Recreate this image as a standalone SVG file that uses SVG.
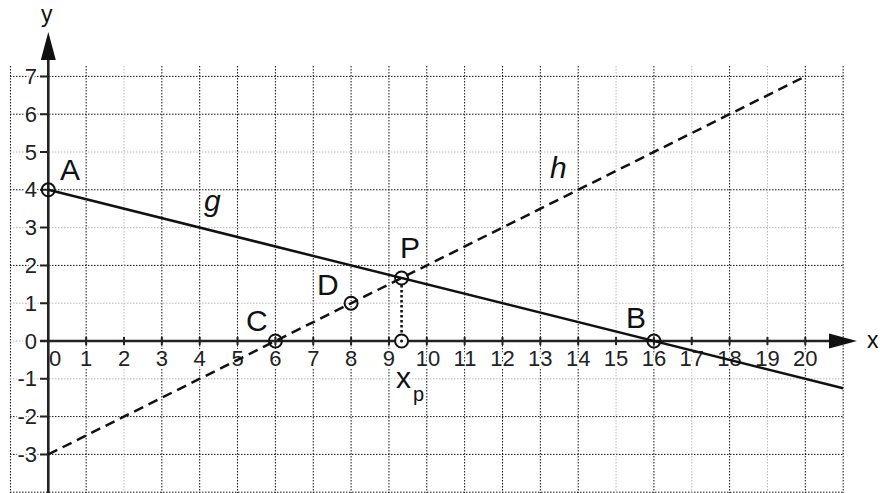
<svg xmlns="http://www.w3.org/2000/svg" width="880" height="493" viewBox="0 0 880 493">
<style>
.gd{stroke:#111;stroke-width:1;stroke-dasharray:1.5 1.5;fill:none}
.gl{stroke:#b8b8b8;stroke-width:1;stroke-dasharray:1.5 1.5;fill:none}
.ax{stroke:#222;stroke-width:2.6;fill:none}
.tk{stroke:#222;stroke-width:2;fill:none}
.num{font-family:"Liberation Sans",Arial,sans-serif;font-size:22px;fill:#222;stroke:#fff;stroke-width:4;paint-order:stroke;stroke-linejoin:round}
.xn{text-anchor:middle}
.yn{text-anchor:end}
.lab{font-family:"Liberation Sans",Arial,sans-serif;font-size:30px;fill:#111;stroke:#fff;stroke-width:3;paint-order:stroke;stroke-linejoin:round}
.axl{font-family:"Liberation Sans",Arial,sans-serif;font-size:23px;fill:#111}
.it{font-style:italic}
.pt{fill:none;stroke:#111;stroke-width:2}
.ln{stroke:#111;stroke-width:2.5;fill:none}
</style>
<g id="grid">
<g class="gd">
<line x1="10.45" y1="66" x2="10.45" y2="493"/>
<line x1="86.15" y1="66" x2="86.15" y2="493"/>
<line x1="161.85" y1="66" x2="161.85" y2="493"/>
<line x1="199.7" y1="66" x2="199.7" y2="493"/>
<line x1="237.55" y1="66" x2="237.55" y2="493"/>
<line x1="275.4" y1="66" x2="275.4" y2="493"/>
<line x1="313.25" y1="66" x2="313.25" y2="493"/>
<line x1="351.1" y1="66" x2="351.1" y2="493"/>
<line x1="388.95" y1="66" x2="388.95" y2="493"/>
<line x1="426.8" y1="66" x2="426.8" y2="493"/>
<line x1="464.65" y1="66" x2="464.65" y2="493"/>
<line x1="502.5" y1="66" x2="502.5" y2="493"/>
<line x1="540.35" y1="66" x2="540.35" y2="493"/>
<line x1="578.2" y1="66" x2="578.2" y2="493"/>
<line x1="653.9" y1="66" x2="653.9" y2="493"/>
<line x1="729.6" y1="66" x2="729.6" y2="493"/>
<line x1="805.3" y1="66" x2="805.3" y2="493"/>
<line x1="843.15" y1="66" x2="843.15" y2="493"/>
<line x1="10" y1="76.4" x2="843" y2="76.4"/>
<line x1="10" y1="114.2" x2="843" y2="114.2"/>
<line x1="10" y1="189.8" x2="843" y2="189.8"/>
<line x1="10" y1="265.4" x2="843" y2="265.4"/>
<line x1="10" y1="416.6" x2="843" y2="416.6"/>
<line x1="10" y1="454.4" x2="843" y2="454.4"/>
<line x1="10" y1="492.2" x2="843" y2="492.2"/>
</g>
<g class="gl">
<line x1="124" y1="66" x2="124" y2="493"/>
<line x1="616.05" y1="66" x2="616.05" y2="493"/>
<line x1="691.75" y1="66" x2="691.75" y2="493"/>
<line x1="767.45" y1="66" x2="767.45" y2="493"/>
<line x1="10" y1="152" x2="843" y2="152"/>
<line x1="10" y1="227.6" x2="843" y2="227.6"/>
<line x1="10" y1="303.2" x2="843" y2="303.2"/>
<line x1="10" y1="378.8" x2="843" y2="378.8"/>
<line x1="10" y1="341" x2="40" y2="341"/>
</g>
</g>
<g id="labels">
<text class="num" x="49" y="366">0</text>
<text class="num xn" x="86.15" y="366">1</text>
<text class="num xn" x="124" y="366">2</text>
<text class="num xn" x="161.85" y="366">3</text>
<text class="num xn" x="199.7" y="366">4</text>
<text class="num xn" x="237.55" y="366">5</text>
<text class="num xn" x="275.4" y="366">6</text>
<text class="num xn" x="313.25" y="366">7</text>
<text class="num xn" x="351.1" y="366">8</text>
<text class="num xn" x="388.95" y="366">9</text>
<text class="num xn" x="428" y="366">10</text>
<text class="num xn" x="465" y="366">11</text>
<text class="num xn" x="502.5" y="366">12</text>
<text class="num xn" x="540.35" y="366">13</text>
<text class="num xn" x="578.2" y="366">14</text>
<text class="num xn" x="616.05" y="366">15</text>
<text class="num xn" x="653.9" y="366">16</text>
<text class="num xn" x="691.75" y="366">17</text>
<text class="num xn" x="729.6" y="366">18</text>
<text class="num xn" x="767.45" y="366">19</text>
<text class="num xn" x="805.3" y="366">20</text>
<text class="num yn" x="37" y="84">7</text>
<text class="num yn" x="37" y="121.8">6</text>
<text class="num yn" x="37" y="159.6">5</text>
<text class="num yn" x="37" y="197.4">4</text>
<text class="num yn" x="37" y="235.2">3</text>
<text class="num yn" x="37" y="273">2</text>
<text class="num yn" x="37" y="310.8">1</text>
<text class="num yn" x="37" y="348.6">0</text>
<text class="num yn" x="37" y="386.4">-1</text>
<text class="num yn" x="37" y="424.2">-2</text>
<text class="num yn" x="37" y="462">-3</text>
</g>
<g id="axes">
<line class="ax" x1="40" y1="341" x2="832" y2="341"/>
<line class="ax" x1="48.3" y1="493" x2="48.3" y2="58"/>
<polygon points="857,341 829,333.5 829,348.5" fill="#111"/>
<polygon points="48.3,32 40.8,60 55.8,60" fill="#111"/>
<g class="tk">
<path d="M86.15 337V345M124 337V345M161.85 337V345M199.7 337V345M237.55 337V345M275.4 337V345M313.25 337V345M351.1 337V345M388.95 337V345M426.8 337V345M464.65 337V345M502.5 337V345M540.35 337V345M578.2 337V345M616.05 337V345M653.9 337V345M691.75 337V345M729.6 337V345M767.45 337V345M805.3 337V345"/>
<path d="M40 76.4H48M40 114.2H48M40 152H48M40 189.8H48M40 227.6H48M40 265.4H48M40 303.2H48M40 378.8H48M40 416.6H48M40 454.4H48"/>
</g>
<text class="axl" x="41" y="22">y</text>
<text class="axl" x="867" y="348">x</text>
</g>
<g id="connectors">
<line id="g" class="ln" x1="48.3" y1="189.8" x2="843.15" y2="388.25"/>
<line id="h" class="ln" x1="48.3" y1="454.4" x2="805.3" y2="76.4" stroke-dasharray="10 6"/>
<line id="drop" x1="401.57" y1="285" x2="401.57" y2="341" stroke="#111" stroke-width="2.6" stroke-dasharray="2.5 2.5"/>
</g>
<g id="A"><circle class="pt" cx="48.3" cy="189.8" r="6.5"/><text class="lab" x="60" y="180">A</text></g>
<g id="B"><circle class="pt" cx="653.9" cy="341" r="6.5"/><text class="lab" x="626" y="328">B</text></g>
<g id="C"><circle class="pt" cx="275.4" cy="341" r="6.5"/><text class="lab" x="246" y="331">C</text></g>
<g id="D"><circle class="pt" cx="351.1" cy="303.2" r="6.5"/><text class="lab" x="317" y="295">D</text></g>
<g id="P"><circle class="pt" cx="401.57" cy="278" r="6.5"/><text class="lab" x="400" y="258">P</text></g>
<g id="Xp"><circle class="pt" cx="401.57" cy="341" r="6.5" style="fill:#fff"/><circle cx="401.57" cy="341" r="1.5" fill="#111"/><text class="lab" x="396" y="388">x</text><text class="lab" style="font-size:20px" x="413" y="401">p</text></g>
<g id="glabel"><text class="lab it" x="204" y="211">g</text></g>
<g id="hlabel"><text class="lab it" x="550" y="178">h</text></g>
</svg>
